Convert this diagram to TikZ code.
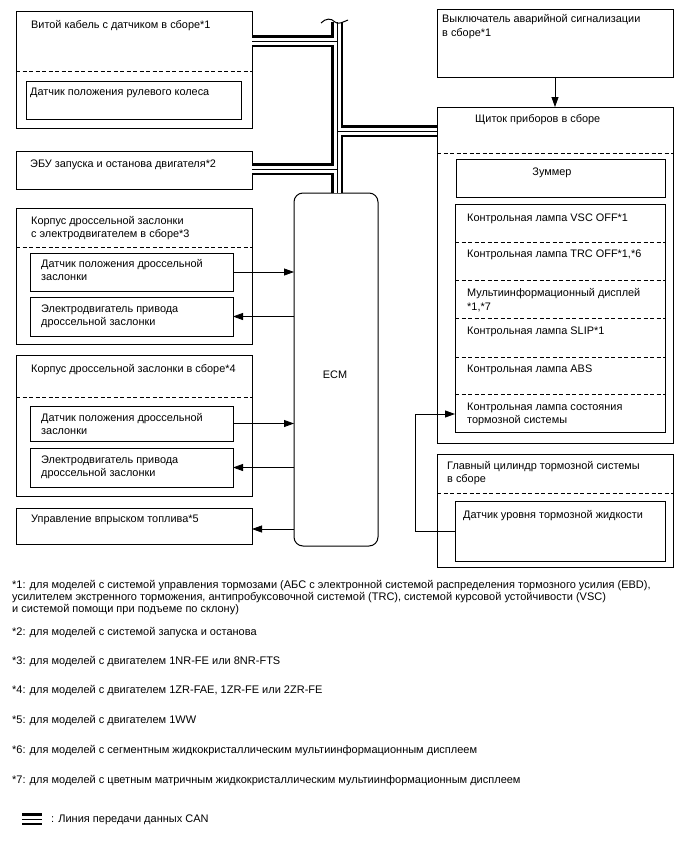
\documentclass[tikz,border=0pt]{standalone}
\usepackage{fontspec}
\setmainfont{Liberation Sans}
\newfontfamily\notefont{Liberation Sans}
\usetikzlibrary{arrows.meta,fit}
\tikzset{
  box/.style={draw, line width=1pt, inner sep=0pt, outer sep=0pt},
  ecmbox/.style={box, rounded corners=9pt},
  sep/.style={line width=0.9pt, dash pattern=on 4pt off 2.5pt},
  txt/.style={anchor=base west, inner sep=0pt, font=\fontsize{10.9}{12}\selectfont},
  ctxt/.style={anchor=center, inner sep=0pt, font=\fontsize{10.9}{12}\selectfont},
  note/.style={anchor=base west, inner sep=0pt, font=\notefont\fontsize{11}{12}\selectfont},
  arr/.style={line width=0.8pt, -{Triangle[length=10pt,width=7pt]}},
  bus/.style={line width=12pt, black},
  busw/.style={line width=7pt, white},
  busc/.style={line width=1pt, black},
}
\begin{document}
\begin{tikzpicture}[x=1pt,y=-1pt]
\useasboundingbox[fill=white] (0,0) rectangle (688,852);

% ---------- left column ----------
\node[box, fit={(16,11) (252,128)}] (b1) {};
\draw[sep] (b1.west |- 0,71) -- (b1.east |- 0,71);
\node[box, fit={(26,81) (241,119)}] (b1in) {};
\node[txt] (t1) at (31,28) {Витой кабель с датчиком в сборе*1};
\node[txt] (t1in) at (30,95) {Датчик положения рулевого колеса};

\node[box, fit={(16,151) (252,189)}] (b2) {};
\node[txt] (t2) at (30,167) {ЭБУ запуска и останова двигателя*2};

\node[box, fit={(16,208) (252,344)}] (b3) {};
\draw[sep] (b3.west |- 0,247) -- (b3.east |- 0,247);
\node[txt] (t3a) at (31,224) {Корпус дроссельной заслонки};
\node[txt] (t3b) at (31,237) {с электродвигателем в сборе*3};
\node[box, fit={(30,253) (233,291)}] (b3a) {};
\node[txt] (t3aa) at (41,267) {Датчик положения дроссельной};
\node[txt] (t3ab) at (41,280) {заслонки};
\node[box, fit={(30,297) (233,336)}] (b3b) {};
\node[txt] (t3ba) at (41,312) {Электродвигатель привода};
\node[txt] (t3bb) at (41,325) {дроссельной заслонки};

\node[box, fit={(16,355) (252,496)}] (b4) {};
\draw[sep] (b4.west |- 0,397) -- (b4.east |- 0,397);
\node[txt] (t4) at (31,372) {Корпус дроссельной заслонки в сборе*4};
\node[box, fit={(30,406) (233,441)}] (b4a) {};
\node[txt] (t4aa) at (41,421) {Датчик положения дроссельной};
\node[txt] (t4ab) at (41,434) {заслонки};
\node[box, fit={(30,448) (233,487)}] (b4b) {};
\node[txt] (t4ba) at (41,463) {Электродвигатель привода};
\node[txt] (t4bb) at (41,476) {дроссельной заслонки};

\node[box, fit={(16,508) (252,544)}] (b5) {};
\node[txt] (t5) at (31,522) {Управление впрыском топлива*5};

% ---------- ECM ----------
\node[ecmbox, fit={(294,193) (378,546)}] (ecm) {};
\node[ctxt] (tecm) at (335,375) {ECM};

% ---------- right column ----------
\node[box, fit={(437,9) (673,77)}] (haz) {};
\node[txt] (th1) at (442,22) {Выключатель аварийной сигнализации};
\node[txt] (th2) at (442,36) {в сборе*1};

\node[box, fit={(437,107) (673,443)}] (clu) {};
\node[txt] (tclu) at (475,122) {Щиток приборов в сборе};
\draw[sep] (clu.west |- 0,153) -- (clu.east |- 0,153);
\node[box, fit={(456,159) (665,197)}] (buz) {};
\node[ctxt] (tbuz) at (552,173) {Зуммер};

\node[box, fit={(455,204) (665,432)}] (lamps) {};
\foreach \yy in {242,280,318,357,394}
  \draw[sep] (lamps.west |- 0,\yy) -- (lamps.east |- 0,\yy);
\node[txt] (l1) at (467,221) {Контрольная лампа VSC OFF*1};
\node[txt] (l2) at (467,257) {Контрольная лампа TRC OFF*1,*6};
\node[txt] (l3a) at (467,296) {Мультиинформационный дисплей};
\node[txt] (l3b) at (467,310) {*1,*7};
\node[txt] (l4) at (467,334) {Контрольная лампа SLIP*1};
\node[txt] (l5) at (467,372) {Контрольная лампа ABS};
\node[txt] (l6a) at (467,410) {Контрольная лампа состояния};
\node[txt] (l6b) at (467,423) {тормозной системы};

\node[box, fit={(437,454) (673,567)}] (mc) {};
\node[txt] (tmc1) at (447,469) {Главный цилиндр тормозной системы};
\node[txt] (tmc2) at (447,482) {в сборе};
\draw[sep] (mc.west |- 0,493) -- (mc.east |- 0,493);
\node[box, fit={(455,501) (665,561)}] (lvl) {};
\node[txt] (tlvl) at (463,518) {Датчик уровня тормозной жидкости};

% ---------- signal arrows ----------
\draw[arr] (b3a.east) -- (b3a.east -| ecm.west);
\draw[arr] (b3b.east -| ecm.west) -- (b3b.east);
\draw[arr] (b4a.east) -- (b4a.east -| ecm.west);
\draw[arr] (b4b.east -| ecm.west) -- (b4b.east);
\coordinate (j5) at (294,529);
\draw[arr] (j5) -- (j5 -| b5.east);
\draw[arr] (haz.south) -- (haz.south |- clu.north);
\coordinate (bend) at (415,531);
\coordinate (lampin) at (455,414);
\draw[arr, line width=0.9pt] (lvl.west |- bend) -- (bend) |- (lampin);

% ---------- CAN bus ----------
\coordinate (vtop) at (337,22);
\coordinate (vbot) at (337,193);
\coordinate (j1) at (337,41);
\coordinate (j2) at (337,169);
\coordinate (j3) at (337,131);
\foreach \st in {bus,busw,busc}{
  \draw[\st] (vtop) -- (vbot);
  \draw[\st] (b1.east |- j1) -- (j1);
  \draw[\st] (b2.east |- j2) -- (j2);
  \draw[\st] (j3) -- (clu.west |- j3);
}
\draw[line width=1pt] (321,23) .. controls (326,18) and (331,18) .. (335,22)
   .. controls (338,25) and (343,22) .. (348,20);

% ---------- footnotes ----------
\node[note] (n1a) at (12,588) {*1: для моделей с системой управления тормозами (АБС с электронной системой распределения тормозного усилия (EBD),};
\node[note] (n1b) at (12,600) {усилителем экстренного торможения, антипробуксовочной системой (TRC), системой курсовой устойчивости (VSC)};
\node[note] (n1c) at (12,612) {и системой помощи при подъеме по склону)};
\node[note] (n2) at (12,635) {*2: для моделей с системой запуска и останова};
\node[note] (n3) at (12,664) {*3: для моделей с двигателем 1NR-FE или 8NR-FTS};
\node[note] (n4) at (12,693) {*4: для моделей с двигателем 1ZR-FAE, 1ZR-FE или 2ZR-FE};
\node[note] (n5) at (12,723) {*5: для моделей с двигателем 1WW};
\node[note] (n6) at (12,753) {*6: для моделей с сегментным жидкокристаллическим мультиинформационным дисплеем};
\node[note] (n7) at (12,783) {*7: для моделей с цветным матричным жидкокристаллическим мультиинформационным дисплеем};

\coordinate (lg1) at (22,819);
\coordinate (lg2) at (42,819);
\foreach \st in {bus,busw,busc} \draw[\st] (lg1) -- (lg2);
\node[note] (nlg) at (51,822) {: Линия передачи данных CAN};
\end{tikzpicture}
\end{document}
